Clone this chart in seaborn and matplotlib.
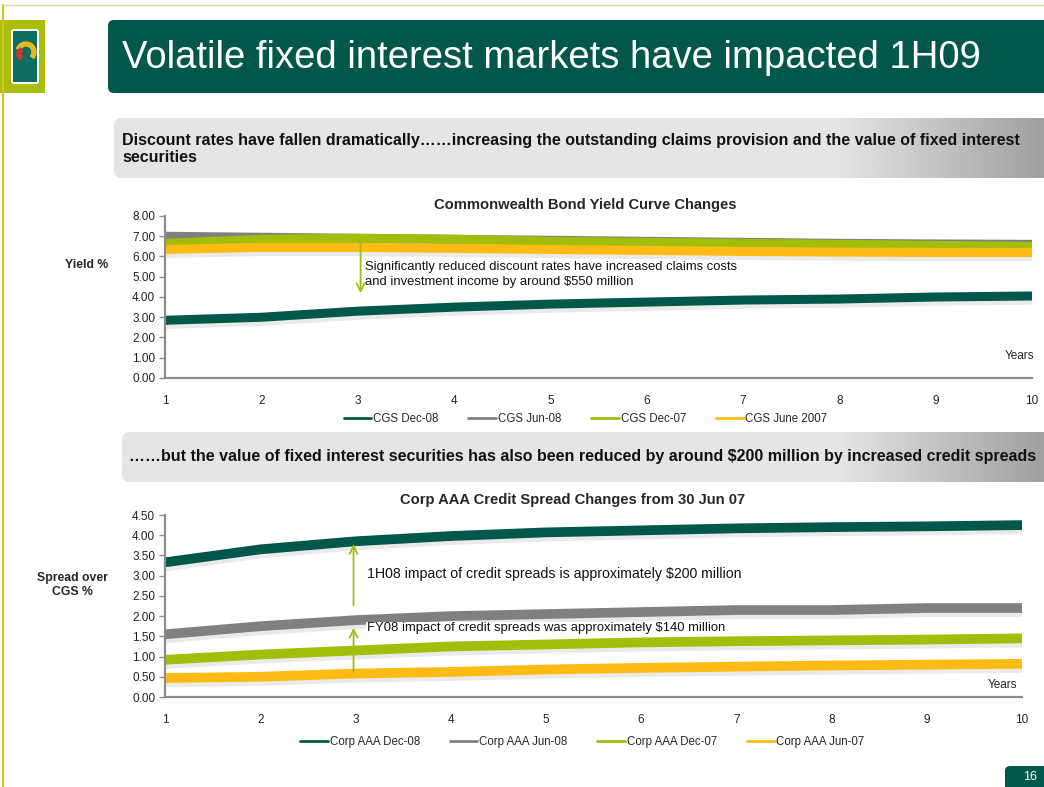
import numpy as np
import pandas as pd
import matplotlib
matplotlib.use("Agg")
import matplotlib.pyplot as plt
import matplotlib.patheffects as pe
from matplotlib.patches import FancyBboxPatch, Rectangle, Wedge
import seaborn as sns

# ---------------- data ----------------
years = [1, 2, 3, 4, 5, 6, 7, 8, 9, 10]

cgs_names = ["CGS Dec-08", "CGS Jun-08", "CGS Dec-07", "CGS June 2007"]
cgs_dec08 = [2.85, 3.00, 3.30, 3.50, 3.65, 3.75, 3.85, 3.90, 4.00, 4.05]
cgs_jun08 = [7.00, 6.95, 6.90, 6.85, 6.80, 6.75, 6.70, 6.65, 6.62, 6.60]
cgs_dec07 = [6.65, 6.85, 6.90, 6.85, 6.75, 6.70, 6.65, 6.60, 6.55, 6.50]
cgs_jun07 = [6.35, 6.45, 6.45, 6.40, 6.35, 6.30, 6.25, 6.22, 6.20, 6.20]

corp_names = ["Corp AAA Dec-08", "Corp AAA Jun-08", "Corp AAA Dec-07", "Corp AAA Jun-07"]
corp_dec08 = [3.33, 3.65, 3.85, 3.98, 4.07, 4.12, 4.17, 4.20, 4.22, 4.25]
corp_jun08 = [1.55, 1.75, 1.90, 2.00, 2.05, 2.10, 2.15, 2.15, 2.20, 2.20]
corp_dec07 = [0.92, 1.05, 1.15, 1.25, 1.30, 1.35, 1.38, 1.40, 1.42, 1.45]
corp_jun07 = [0.47, 0.50, 0.58, 0.62, 0.68, 0.72, 0.75, 0.78, 0.80, 0.82]

yield_ticks = [0, 1, 2, 3, 4, 5, 6, 7, 8]
spread_ticks = [0, 0.5, 1, 1.5, 2, 2.5, 3, 3.5, 4, 4.5]

series_colors = ["#00574A", "#808080", "#A3BD0B", "#FDBB13"]

cgs_df = pd.DataFrame({
    "Years": years * 4,
    "Value": cgs_dec08 + cgs_jun08 + cgs_dec07 + cgs_jun07,
    "Series": [n for n in cgs_names for _ in years],
})
corp_df = pd.DataFrame({
    "Years": years * 4,
    "Value": corp_dec08 + corp_jun08 + corp_dec07 + corp_jun07,
    "Series": [n for n in corp_names for _ in years],
})

# ---------------- figure ----------------
sns.set_theme(style="white")
plt.rcParams["font.family"] = ["Liberation Sans", "DejaVu Sans"]

W, H = 1044, 787
fig = plt.figure(figsize=(W / 100, H / 100), dpi=100)

# background (pixel coordinates)
bg = fig.add_axes([0, 0, 1, 1], zorder=0)
bg.set_xlim(0, W)
bg.set_ylim(H, 0)
bg.axis("off")

# yellow frame lines
bg.plot([3, 3], [5, H], color="#C8C81E", lw=1.6)
bg.plot([3, W], [5, 5], color="#D8D8A0", lw=1.0)

# logo block
bg.add_patch(Rectangle((0, 20), 45, 73, color="#A9BF0B", lw=0))
bg.add_patch(FancyBboxPatch((11, 29), 28, 55, boxstyle="round,pad=0,rounding_size=3",
                            fc="white", ec="none"))
bg.add_patch(Rectangle((13, 31), 24, 51, color="#0B6E60", lw=0))
bg.add_patch(Wedge((26, 52), 10, 200, 40, width=4, color="#E8B820"))
bg.add_patch(Wedge((24, 54), 7, 120, 240, width=4, color="#D8342A"))

# title bar
bg.add_patch(FancyBboxPatch((108, 20), W - 108 + 20, 73,
                            boxstyle="round,pad=0,rounding_size=6",
                            fc="#00574A", ec="none"))
bg.text(122, 58, "Volatile fixed interest markets have impacted 1H09", color="white",
        fontsize=27.5, va="center", ha="left")

# grey gradient subheading boxes
def grad_box(x0, y0, w, h):
    p = FancyBboxPatch((x0, y0), w + 20, h, boxstyle="round,pad=0,rounding_size=8",
                       fc="none", ec="none")
    bg.add_patch(p)
    t = np.linspace(0, 1, 400)
    vals = np.where(t < 0.78, 0.895, 0.895 - (t - 0.78) / 0.22 * 0.27)
    img = np.tile(vals, (10, 1))
    im = bg.imshow(img, cmap="gray", vmin=0, vmax=1, aspect="auto",
                   extent=(x0, x0 + w, y0 + h, y0), interpolation="bilinear")
    im.set_clip_path(p)

grad_box(114, 118, W - 114, 60)
grad_box(122, 432, W - 122, 50)
bg.set_xlim(0, W)
bg.set_ylim(H, 0)

bg.text(122, 149, "Discount rates have fallen dramatically……increasing the outstanding claims provision and the value of fixed interest\nsecurities",
        fontsize=11.5, fontweight="bold", va="center", ha="left", color="#111111",
        linespacing=1.2)
bg.text(129, 457, "……but the value of fixed interest securities has also been reduced by around $200 million by increased credit spreads",
        fontsize=11.5, fontweight="bold", va="center", ha="left", color="#111111")

# page number
bg.add_patch(FancyBboxPatch((1005, 766), 50, 26, boxstyle="round,pad=0,rounding_size=5",
                            fc="#00574A", ec="none"))
bg.text(1030, 777, "16", color="white", fontsize=9, ha="center", va="center")

# y labels
bg.text(87, 265, "Yield %", fontsize=8.8, fontweight="bold", ha="center", va="center")
bg.text(72, 585, "Spread over\nCGS %", fontsize=8.8, fontweight="bold", ha="center",
        va="center", linespacing=1.15)

# chart titles
bg.text(585, 205, "Commonwealth Bond Yield Curve Changes", fontsize=10.6, fontweight="bold",
        ha="center", va="center")
bg.text(573, 500, "Corp AAA Credit Spread Changes from 30 Jun 07", fontsize=10.6,
        fontweight="bold", ha="center", va="center")


def fy(y):
    return 1 - y / H


def style_axes(ax, ylim, ticks):
    ax.set_xlim(1, 10)
    ax.set_ylim(*ylim)
    ax.set_facecolor("none")
    ax.set_xticks(years)
    ax.set_xticklabels([str(y) for y in years])
    ax.set_yticks(ticks)
    ax.set_yticklabels([f"{t:.2f}" for t in ticks])
    for s in ["top", "right"]:
        ax.spines[s].set_visible(False)
    for s in ["left", "bottom"]:
        ax.spines[s].set_color("#8C8C8C")
        ax.spines[s].set_linewidth(1.6)
    ax.tick_params(axis="y", which="both", left=True, length=4, width=1, color="#8C8C8C",
                   labelsize=8.5, pad=3, labelcolor="#222222")
    ax.tick_params(axis="x", bottom=False, labelsize=8.5, pad=6, labelcolor="#222222")
    ax.set_xlabel("")
    ax.set_ylabel("")
    ax.grid(False)


shadow = [pe.SimpleLineShadow(offset=(0, -3), shadow_color="#a0a0a0", alpha=0.22),
          pe.Normal()]

# ---------------- top chart ----------------
ax1 = fig.add_axes([165 / W, fy(378), (1032 - 165) / W, (378 - 216) / H], zorder=2)
sns.lineplot(data=cgs_df, x="Years", y="Value", hue="Series", hue_order=cgs_names,
             palette=series_colors, linewidth=6.5, ax=ax1, legend=False)
for ln in ax1.lines:
    ln.set_path_effects(shadow)
    ln.set_solid_capstyle("butt")
style_axes(ax1, (0, 8), yield_ticks)
ax1.annotate("", xy=(3.03, 4.05), xytext=(3.03, 6.95),
             arrowprops=dict(arrowstyle="->", color="#A3BD0B", lw=1.3, mutation_scale=14))
ax1.text(3.08, 5.1, "Significantly reduced discount rates have increased claims costs\nand investment income by around $550 million",
         fontsize=9.4, va="center", ha="left", color="#111111", linespacing=1.3)
ax1.text(10.02, 1.1, "Years", fontsize=8.5, ha="right", va="center", color="#222222")
h1 = [plt.Line2D([], [], color=c, lw=2) for c in series_colors]
ax1.legend(h1, cgs_names, loc="center", bbox_to_anchor=(0.485, -0.255), ncol=4,
           frameon=False, fontsize=8.3, handlelength=2.4, handletextpad=0.15,
           columnspacing=2.6)

# ---------------- bottom chart ----------------
ax2 = fig.add_axes([165 / W, fy(697), (1022 - 165) / W, (697 - 515) / H], zorder=2)
sns.lineplot(data=corp_df, x="Years", y="Value", hue="Series", hue_order=corp_names,
             palette=series_colors, linewidth=7, ax=ax2, legend=False)
for ln in ax2.lines:
    ln.set_path_effects(shadow)
    ln.set_solid_capstyle("butt")
style_axes(ax2, (0, 4.5), spread_ticks)
ax2.annotate("", xy=(2.98, 3.85), xytext=(2.98, 2.2),
             arrowprops=dict(arrowstyle="->", color="#A3BD0B", lw=1.3, mutation_scale=14))
ax2.annotate("", xy=(2.98, 1.78), xytext=(2.98, 0.55),
             arrowprops=dict(arrowstyle="->", color="#A3BD0B", lw=1.3, mutation_scale=14))
ax2.text(3.12, 3.05, "1H08 impact of credit spreads is approximately $200 million",
         fontsize=10.2, va="center", ha="left", color="#111111")
ax2.text(3.12, 1.7, "FY08 impact of credit spreads was approximately $140 million",
         fontsize=9.4, va="center", ha="left", color="#111111",
         bbox=dict(fc="white", ec="none", pad=0.5))
ax2.text(9.95, 0.3, "Years", fontsize=8.5, ha="right", va="center", color="#222222")
h2 = [plt.Line2D([], [], color=c, lw=2) for c in series_colors]
ax2.legend(h2, corp_names, loc="center", bbox_to_anchor=(0.487, -0.245), ncol=4,
           frameon=False, fontsize=8.3, handlelength=2.4, handletextpad=0.15,
           columnspacing=2.6)

fig.savefig("out.png", dpi=100)
